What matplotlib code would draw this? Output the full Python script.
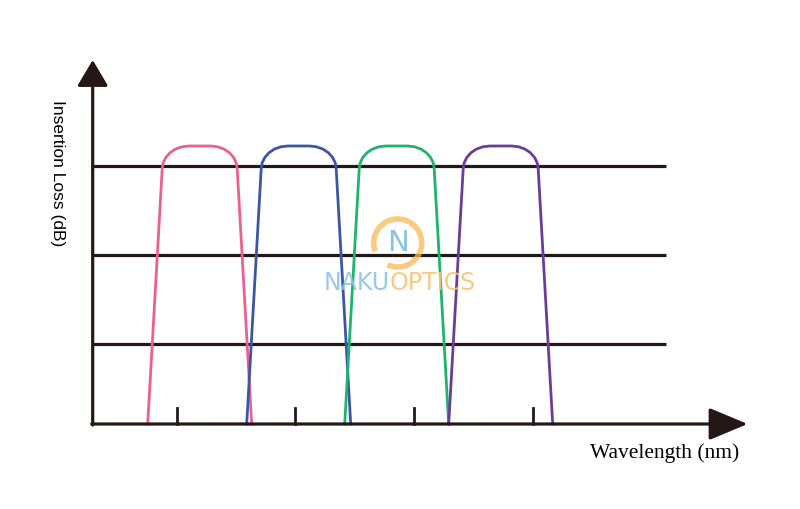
import numpy as np
import matplotlib.pyplot as plt
from matplotlib.patches import Arc

# units: distance from the axis origin (roughly pixels of the source image)
grid_levels = [80, 169, 258]
tick_positions = [84, 202, 321, 440]
grid_end = 573
x_arrow_end = 655
y_arrow_end = 364

# one filter passband (offset from centre, height)
profile_dx = [-52, -37.5, -36.6, -33.9, -29.7, -24.3, -17.9, -11, 0,
              11, 17.9, 24.3, 29.7, 33.9, 36.6, 37.5, 52]
profile_h = [0, 255, 261, 266.5, 271.3, 274.9, 277.2, 278, 278,
             278, 277.2, 274.9, 271.3, 266.5, 261, 255, 0]

channel_centers = [107, 206, 304, 408]
channel_colors = ['#ec5f92', '#3c56a5', '#1eb46c', '#6c3d98']

ink = '#231815'

fig = plt.figure(figsize=(8, 5.09), dpi=100)
ax = fig.add_axes([0, 0, 1, 1])
ax.set_xlim(-92.7, 800 - 92.7)
ax.set_ylim(-85, 424)
ax.axis('off')

# grid lines
for g in grid_levels:
    ax.plot([0, grid_end], [g, g], color=ink, lw=2.3, solid_capstyle='butt', zorder=2)

# ticks on the x axis
for t in tick_positions:
    ax.plot([t, t], [0, 16], color=ink, lw=2.0, zorder=2)

# passband curves
for c, col in zip(channel_centers, channel_colors):
    xs = np.array(profile_dx) + c
    ax.plot(xs, profile_h, color=col, lw=2.0, solid_joinstyle='round', zorder=3)

# axes with arrows
ax.annotate('', xy=(x_arrow_end, 0), xytext=(-1, 0),
            arrowprops=dict(arrowstyle='-|>,head_length=2.4,head_width=1.0',
                            color=ink, lw=2.3, shrinkA=0, shrinkB=0), zorder=4)
ax.annotate('', xy=(0, y_arrow_end), xytext=(0, -1),
            arrowprops=dict(arrowstyle='-|>,head_length=1.6,head_width=0.95',
                            color=ink, lw=2.3, shrinkA=0, shrinkB=0), zorder=4)

# labels
ax.text(-35, 251, 'Insertion Loss (dB)', rotation=270, ha='center', va='center',
        fontsize=12.5, family='Liberation Sans', color='black')
ax.text(572, -29, 'Wavelength (nm)', ha='center', va='center',
        fontsize=15.5, family='Liberation Serif', color='black')

# watermark
ax.add_patch(Arc((305, 181), 48, 48, angle=0, theta1=-115, theta2=200,
                 color='#f7b955', lw=4, alpha=0.75, zorder=5))
ax.text(305, 181, 'N', ha='center', va='center', fontsize=21, family='DejaVu Sans',
        color='#7fbde3', alpha=0.9, zorder=6)
ax.text(297, 141, 'NAKU', ha='right', va='center', fontsize=17, family='DejaVu Sans',
        color='#8cc4e6', alpha=0.9, zorder=6)
ax.text(297, 141, 'OPTICS', ha='left', va='center', fontsize=17, family='DejaVu Sans',
        color='#f7c577', alpha=0.9, zorder=6)

fig.savefig('out.png', dpi=100)
